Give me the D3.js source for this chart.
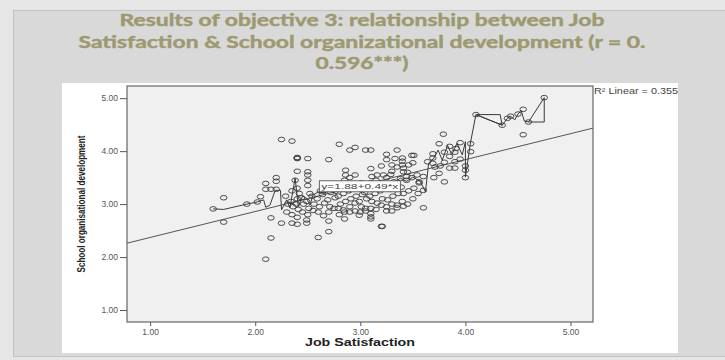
<!DOCTYPE html>
<html><head><meta charset="utf-8">
<script src="https://cdn.jsdelivr.net/npm/d3@7"></script>
<style>body{margin:0;background:#e6e6e6;} svg{display:block}</style>
</head><body><svg id="c" width="725" height="360"></svg>
<script>
// ---- data ----
const titleLines = ["Results of objective 3: relationship between Job",
  "Satisfaction & School organizational development (r = 0.",
  "0.596***)"];
const xTicks = [1, 2, 3, 4, 5];
const yTicks = [1, 2, 3, 4, 5];
const xLabel = "Job Satisfaction";
const yLabel = "School organisational development";
const fitIntercept = 1.88, fitSlope = 0.49;
const fitLabel = "y=1.88+0.49*x";
const r2Label = "R\u00B2 Linear = 0.355";

const jobSatisfaction = [
  1.60,1.70,1.70,1.92,2.02,2.05,2.10,2.10,2.10,2.15,2.15,2.15,2.20,2.20,2.20,2.25,2.35,2.25,2.35,2.40,
  2.40,2.40,2.40,2.50,2.40,2.50,2.50,2.50,2.60,2.70,2.70,2.70,2.80,2.90,2.95,3.05,2.85,3.10,3.20,3.21,
  3.10,3.35,3.25,3.25,3.33,3.40,3.40,3.30,3.40,3.46,2.86,2.86,2.95,3.16,3.22,3.29,3.38,3.44,2.49,2.49,
  2.79,2.84,2.90,2.95,2.99,3.05,3.25,3.30,3.35,3.10,3.10,3.41,3.60,3.49,3.10,
  3.51,3.64,3.69,3.75,3.79,3.85,3.95,4.05,3.80,3.90,3.69,3.80,3.90,4.00,4.00,3.80,4.05,4.10,4.35,4.40,
  4.43,4.50,4.55,4.55,4.60,4.75,3.41,3.41,3.60,3.56,3.60,3.85,3.95,4.00,
  2.30,2.31,2.29, 2.35,2.36,2.34,2.35, 2.40,2.41,2.39,2.40,2.42,2.40,2.38, 2.45,2.46,2.44,
  2.50,2.51,2.49,2.52,2.50, 2.55,2.56,2.54, 2.60,2.61,2.59,2.62, 2.65,2.66,2.64,
  2.70,2.71,2.69,2.72,2.70, 2.75,2.76,2.74, 2.80,2.81,2.79,2.82,2.80, 2.85,2.86,2.84,2.85,
  2.90,2.91,2.89,2.92,2.90, 2.95,2.96,2.94, 3.00,3.01,2.99,3.02,3.00,3.01, 3.05,3.06,3.04,3.05,
  3.10,3.11,3.09,3.12,3.10,3.11, 3.15,3.16,3.14,3.15, 3.20,3.21,3.19,3.22,3.20, 3.25,3.26,3.24,3.25,
  3.30,3.31,3.29,3.32,3.30, 3.35,3.36,3.34,3.35, 3.40,3.41,3.39, 3.45,3.46,3.44,3.45,
  3.50,3.51,3.49,3.50, 3.55,3.56,3.54, 3.70,3.71,3.69, 3.75,3.76, 3.85, 3.90,3.91
];
const orgDevelopment = [
  2.91,2.66,3.12,3.00,3.04,3.14,1.96,3.39,3.28,2.74,2.36,3.28,3.28,3.50,3.43,4.22,4.19,2.64,2.64,2.62,
  3.86,3.87,3.88,3.86,3.62,3.61,3.55,3.45,2.37,2.68,2.48,3.84,4.13,4.02,4.07,4.02,2.72,2.72,2.58,2.58,
  3.67,4.02,3.94,3.84,3.86,3.87,3.81,3.74,3.74,3.74,3.64,3.55,3.55,3.55,3.55,3.56,3.48,3.52,2.70,2.64,
  2.92,2.89,2.85,2.87,2.79,2.87,2.87,2.87,2.93,2.92,2.76,2.96,2.93,3.92,4.02,
  3.92,3.80,3.87,4.14,4.32,4.09,4.16,4.14,3.98,3.98,3.77,3.79,3.80,3.64,3.50,3.42,3.99,4.69,4.49,4.62,
  4.66,4.70,4.79,4.31,4.55,5.01,3.61,3.68,3.52,3.42,3.26,3.90,3.85,3.72,
  2.85,3.00,3.15, 2.80,2.95,3.05,3.25, 2.75,2.90,3.00,3.10,3.20,3.30,3.45, 2.85,3.00,3.12,
  2.80,2.92,3.05,3.20,3.35, 2.88,3.00,3.15, 2.85,2.95,3.10,3.25, 2.78,3.02,3.18,
  2.85,2.95,3.08,3.22,3.35, 2.92,3.12,3.30, 2.80,3.00,3.15,3.28,3.38, 2.85,3.05,3.20,3.45,
  2.95,3.10,3.25,3.36,3.50, 3.02,3.15,3.30, 2.85,2.95,3.05,3.18,3.28,3.40, 2.92,3.10,3.22,3.35,
  2.82,3.05,3.15,3.28,3.40,3.52, 2.90,3.02,3.20,3.45, 2.98,3.10,3.25,3.38,3.72, 2.95,3.08,3.30,3.50,
  3.00,3.15,3.28,3.42,3.62, 2.98,3.20,3.35,3.70, 3.05,3.20,3.32, 3.00,3.25,3.45,3.60,
  3.10,3.30,3.50,3.78, 3.20,3.40,3.55, 3.50,3.70,3.95, 3.58,3.72, 3.68, 3.68,4.05
];
// interpolation (zig-zag) line through the cases
const lineX = [1.60,1.70,1.92,2.02,2.08,2.10,2.14,2.19,2.24,2.25,2.30,2.33,2.38,2.41,2.45,2.49,2.52,2.55,2.60,2.65,
  2.71,2.77,2.83,2.90,2.96,3.02,3.10,3.15,3.21,3.27,3.32,3.38,3.44,3.50,3.57,3.62,3.65,3.70,3.74,3.78,
  3.83,3.87,3.92,3.97,4.00,4.00,4.05,4.10,4.33,4.35,4.10,4.35,4.40,4.43,4.47,4.50,4.53,4.56,4.60,4.75,4.75,4.60];
const lineY = [2.91,2.90,3.00,3.04,3.08,2.94,2.98,3.26,3.26,2.89,3.08,2.93,3.49,2.95,3.15,3.11,2.98,3.17,3.23,3.20,
  3.26,3.19,3.30,3.23,3.32,3.25,3.34,3.26,3.38,3.30,3.40,3.49,3.43,3.51,3.43,3.23,3.77,3.87,4.02,3.83,
  4.11,3.93,4.15,3.93,4.18,3.51,4.18,4.69,4.69,4.49,4.69,4.49,4.62,4.66,4.59,4.70,4.77,4.57,4.55,5.01,4.55,4.55];

// ---- drawing ----
const svg = d3.select("#c");
svg.append("rect").attr("x",0).attr("y",0).attr("width",725).attr("height",360).attr("fill","#e6e6e6");
svg.append("rect").attr("x",13.5).attr("y",10.5).attr("width",720).attr("height",346)
  .attr("fill","#d9d9d9").attr("stroke","#c2c2c2");

// title
const titleWidths = [485, 567, 93];
svg.append("g").selectAll("text").data(titleLines).join("text")
  .attr("x",362).attr("y",(d,i)=>26+i*21.5)
  .attr("text-anchor","middle")
  .attr("font-family","Lato, 'Open Sans', sans-serif").attr("font-weight","bold")
  .attr("font-size",17.5).attr("fill","#9d9970")
  .attr("stroke","#9d9970").attr("stroke-width",0.45)
  .attr("textLength",(d,i)=>titleWidths[i]).attr("lengthAdjust","spacingAndGlyphs")
  .text(d=>d);

// white chart panel
svg.append("rect").attr("x",62).attr("y",83).attr("width",616).attr("height",270).attr("fill","#ffffff");

const L=127, R=593, T=86, B=322;
const x = d3.scaleLinear().domain([0.78, 5.214]).range([L, R]);
const y = d3.scaleLinear().domain([0.774, 5.23]).range([B, T]);

svg.append("rect").attr("x",L).attr("y",T).attr("width",R-L).attr("height",B-T).attr("fill","#f0f0f0");
svg.append("clipPath").attr("id","clip").append("rect").attr("x",L).attr("y",T).attr("width",R-L).attr("height",B-T);

const fmt = d3.format(".2f");
const yAxis = svg.append("g").attr("transform",`translate(${L},0)`)
  .call(d3.axisLeft(y).tickValues(yTicks).tickFormat(fmt).tickSize(7).tickPadding(2));
const xAxis = svg.append("g").attr("transform",`translate(0,${B})`)
  .call(d3.axisBottom(x).tickValues(xTicks).tickFormat(fmt).tickSize(4).tickPadding(3));
[xAxis,yAxis].forEach(g=>{
  g.select(".domain").remove();
  g.selectAll(".tick line").attr("stroke","#555");
  g.selectAll(".tick text").attr("font-family","Arial, 'Liberation Sans', sans-serif").attr("font-size",8.5).attr("fill","#555");
});

const plot = svg.append("g").attr("clip-path","url(#clip)");
plot.append("line")
  .attr("x1",x(0.78)).attr("y1",y(fitIntercept+fitSlope*0.78))
  .attr("x2",x(5.214)).attr("y2",y(fitIntercept+fitSlope*5.214))
  .attr("stroke","#555").attr("stroke-width",1);

const pts = jobSatisfaction.map((v,i)=>[v, orgDevelopment[i]]);
plot.append("g").selectAll("ellipse").data(pts).join("ellipse")
  .attr("cx",d=>x(d[0])).attr("cy",d=>y(d[1])).attr("rx",3.3).attr("ry",2.3)
  .attr("fill","none").attr("stroke","#3a3a3a").attr("stroke-width",0.9);

plot.append("path")
  .datum(lineX.map((v,i)=>[v,lineY[i]]))
  .attr("d", d3.line().x(d=>x(d[0])).y(d=>y(d[1])))
  .attr("fill","none").attr("stroke","#3a3a3a").attr("stroke-width",1);

svg.append("rect").attr("x",L).attr("y",T).attr("width",R-L).attr("height",B-T)
  .attr("fill","none").attr("stroke","#666").attr("stroke-width",1.2);

const bx = x(2.61), by = y(3.44);
svg.append("rect").attr("x",bx).attr("y",by).attr("width",81).attr("height",11)
  .attr("fill","#ffffff").attr("stroke","#444").attr("stroke-width",0.8);
svg.append("text").attr("x",bx+2).attr("y",by+8.5)
  .attr("font-family","Arial, 'Liberation Sans', sans-serif").attr("font-size",8).attr("fill","#444")
  .attr("textLength",77).attr("lengthAdjust","spacingAndGlyphs").text(fitLabel);

svg.append("text").attr("x",R+1).attr("y",94)
  .attr("font-family","Arial, 'Liberation Sans', sans-serif").attr("font-size",8.5).attr("fill","#444")
  .attr("textLength",84).attr("lengthAdjust","spacingAndGlyphs").text(r2Label);

svg.append("text").attr("x",360).attr("y",346).attr("text-anchor","middle")
  .attr("font-family","Arial, 'Liberation Sans', sans-serif").attr("font-weight","bold").attr("font-size",11.5).attr("fill","#222")
  .attr("textLength",110).attr("lengthAdjust","spacingAndGlyphs")
  .text(xLabel);
svg.append("text").attr("transform",`translate(85,${(T+B)/2}) rotate(-90)`).attr("text-anchor","middle")
  .attr("font-family","Arial, 'Liberation Sans', sans-serif").attr("font-weight","bold").attr("font-size",10).attr("fill","#222")
  .attr("textLength",137).attr("lengthAdjust","spacingAndGlyphs")
  .text(yLabel);
</script></body></html>
